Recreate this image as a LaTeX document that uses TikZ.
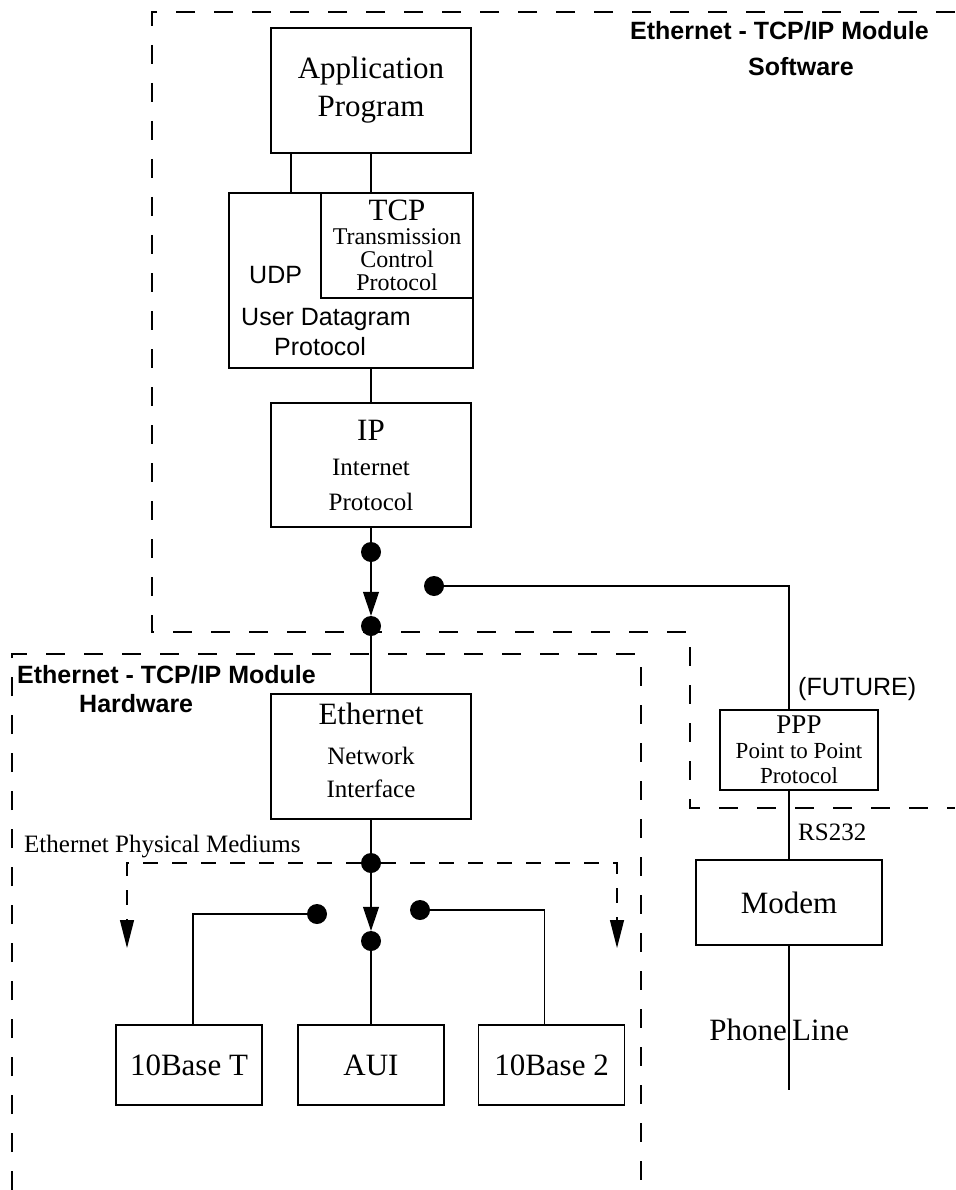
\documentclass[tikz,border=0pt]{standalone}
\usepackage{fontspec}
\setmainfont{Liberation Serif}
\setsansfont{Liberation Sans}
\usetikzlibrary{arrows.meta,positioning,calc}
\newcommand{\bigtxt}{\fontsize{31}{36}\selectfont}
\newcommand{\midtxt}{\fontsize{24}{23}\selectfont}
\tikzset{
  stack box/.style={draw,line width=1.3pt,align=center,inner sep=0pt,font=\fontsize{31}{38}\selectfont},
  media box/.style={stack box,minimum width=146pt,minimum height=80pt},
  switch dot/.style={circle,fill,inner sep=0pt,minimum size=20pt},
  link line/.style={line width=1.1pt},
  phone line/.style={line width=2.6pt},
  switch arrow/.style={link line,-{Triangle[length=24pt,width=16pt]}},
  module frame/.style={line width=1.3pt,dash pattern=on 19pt off 19pt},
  medium frame/.style={line width=1.3pt,dash pattern=on 15pt off 14pt,-{Triangle[length=28pt,width=14pt]}},
  module label/.style={inner sep=0pt,font=\sffamily\bfseries\fontsize{25}{28}\selectfont},
  plain label/.style={inner sep=0pt,font=\fontsize{25}{28}\selectfont},
  big label/.style={inner sep=0pt,font=\fontsize{31}{36}\selectfont},
  sans label/.style={inner sep=0pt,font=\sffamily\fontsize{25}{30}\selectfont}
}
\begin{document}
\begin{tikzpicture}[x=1pt,y=-1pt]
  \useasboundingbox (0,0) rectangle (955,1190);
  % module frames
  \draw[module frame] (955,12) -| (152,632) -| (690,808) -- (955,808);
  \draw[module frame] (12,1190) |- (641,654) -- (641,1190);
  \node[module label,anchor=base west] (swtitle) at (630,40) {Ethernet - TCP/IP Module};
  \node[module label,anchor=base west] (swpart) at (748,76) {Software};
  \node[module label,anchor=base west] (hwtitle) at (17,683) {Ethernet - TCP/IP Module};
  \node[module label,anchor=base west] (hwpart) at (79,712) {Hardware};
  % software stack
  \node[stack box,minimum width=200pt,minimum height=125pt] (app) at (371,90.5) {Application\\Program};
  \node[stack box,minimum width=244pt,minimum height=175pt] (udp) at (351,280.5) {};
  \node[stack box,minimum width=152pt,minimum height=105pt,font=\midtxt] (tcp) at (397,245.5) {{\bigtxt TCP}\\[1pt]Transmission\\Control\\Protocol};
  \node[sans label,anchor=base west] (udpname) at (249,283) {UDP};
  \node[sans label,anchor=north west,align=left] (udpfull) at (241,308) {User Datagram\\\hspace*{33pt}Protocol};
  \node[stack box,minimum width=200pt,minimum height=124pt,font=\fontsize{25}{35}\selectfont] (ip) at (371,465) {{\bigtxt IP}\\Internet\\Protocol};
  % hardware
  \node[stack box,minimum width=200pt,minimum height=125pt,font=\fontsize{25}{33}\selectfont,text depth=12pt] (eth) at (371,756.5) {{\bigtxt Ethernet}\\[7pt]Network\\Interface};
  \node[stack box,minimum width=158pt,minimum height=80pt,font=\fontsize{23}{24}\selectfont] (ppp) at (799,750) {{\fontsize{27}{27}\selectfont PPP}\\[1pt]Point to Point\\[1pt]Protocol};
  \node[stack box,minimum width=186pt,minimum height=85pt] (modem) at (789,902.5) {Modem};
  \node[media box] (tbase) at (189,1065) {10Base T};
  \node[media box] (aui) at (371,1065) {AUI};
  \node[media box] (bbase) at (551.5,1065) {10Base 2};
  % switch contacts
  \node[switch dot] (ipdot) at (371,552) {};
  \node[switch dot] (swdot) at (371,626) {};
  \node[switch dot] (pppdot) at (434,586) {};
  \node[switch dot] (ethdot) at (371,863) {};
  \node[switch dot] (auidot) at (371,941) {};
  \node[switch dot] (tdot) at (317,914) {};
  \node[switch dot] (bdot) at (420,910) {};
  \coordinate (ltip) at (127,948);
  \coordinate (rtip) at (617,948);
  \coordinate (phoneend) at (789,1090);
  % connectors
  \draw[link line] (app.south) -- (app.south |- udp.north);
  \draw[link line] ([xshift=-80pt]app.south) -- ([xshift=-80pt]app.south |- udp.north);
  \draw[link line] (ip.north) -- (ip.north |- udp.south);
  \draw[link line] (ip.south) -- (ipdot);
  \draw[switch arrow] (ipdot) -- (swdot);
  \draw[link line] (swdot) -- (eth.north);
  \draw[link line] (pppdot) -| ([xshift=-10pt]ppp.north);
  \draw[link line] ([xshift=-10pt]ppp.south) -- (modem.north);
  \draw[phone line] (modem.south) -- (phoneend);
  \draw[link line] (eth.south) -- (ethdot);
  \draw[switch arrow] (ethdot) -- (auidot);
  \draw[link line] (auidot) -- (aui.north);
  \draw[link line] (tdot) -| ([xshift=4pt]tbase.north);
  \draw[link line] (bdot) -| ([xshift=-7pt]bbase.north);
  \draw[medium frame] (ethdot) -| (ltip);
  \draw[medium frame] (ethdot) -| (rtip);
  % labels
  \node[sans label,anchor=base west] (future) at (798,695) {(FUTURE)};
  \node[plain label,anchor=base west] (rs) at (798,840) {RS232};
  \node[plain label,anchor=base west] (mediums) at (24,852) {Ethernet Physical Mediums};
  \node[big label,anchor=base east] (phonetxt) at (787,1040) {Phone};
  \node[big label,anchor=base west] (linetxt) at (792,1040) {Line};
\end{tikzpicture}
\end{document}
